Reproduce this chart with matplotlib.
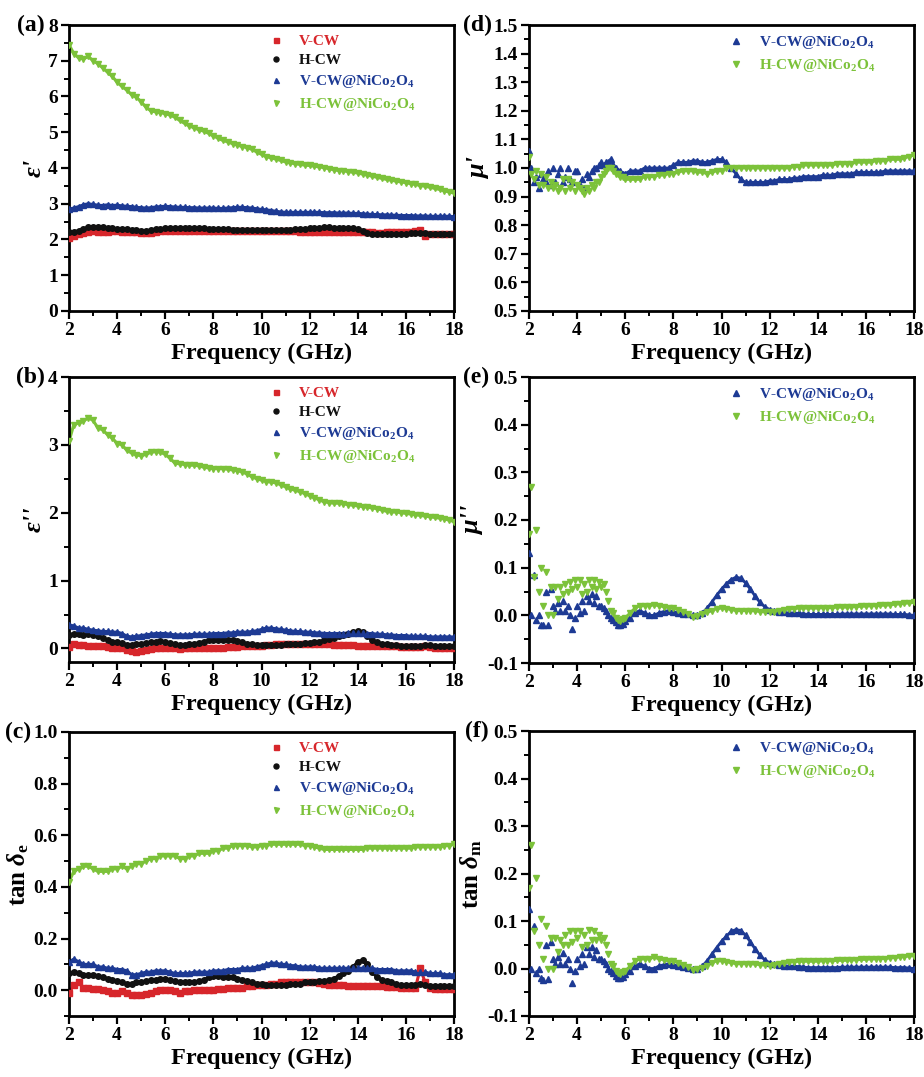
import numpy as np
import matplotlib
matplotlib.use("Agg")
import matplotlib.pyplot as plt
from matplotlib.ticker import MultipleLocator, FormatStrFormatter

plt.rcParams['font.family'] = ['Liberation Serif', 'DejaVu Serif']
plt.rcParams['font.weight'] = 'bold'
plt.rcParams['mathtext.fontset'] = 'custom'
plt.rcParams['mathtext.rm'] = 'Liberation Serif:bold'
plt.rcParams['mathtext.it'] = 'Liberation Serif:bold:italic'
plt.rcParams['mathtext.bf'] = 'Liberation Serif:bold'
plt.rcParams['axes.unicode_minus'] = False

RED = '#d7262b'
BLACK = '#111111'
BLUE = '#1d3a94'
GREEN = '#7cc23a'

# frequency grids (GHz)
freq_eps = np.round(np.arange(2.0, 18.001, 0.2), 2)
freq_mu = np.round(np.concatenate([np.arange(2.0, 5.95, 0.1), np.arange(6.0, 18.001, 0.2)]), 2)

# ---- (a) real permittivity ----
eps1_vcw = [2.05, 2.10, 2.14, 2.18, 2.22, 2.23, 2.22, 2.22, 2.22, 2.23,
            2.23, 2.22, 2.22, 2.21, 2.20, 2.18, 2.18, 2.19, 2.22, 2.24,
            2.25, 2.25, 2.25, 2.25, 2.25, 2.25, 2.25, 2.25, 2.25, 2.25,
            2.25, 2.25, 2.25, 2.25, 2.25, 2.25, 2.25, 2.25, 2.25, 2.25,
            2.25, 2.25, 2.25, 2.25, 2.25, 2.24, 2.24, 2.23, 2.22, 2.22,
            2.21, 2.21, 2.20, 2.20, 2.20, 2.20, 2.20, 2.20, 2.20, 2.20,
            2.20, 2.20, 2.20, 2.20, 2.19, 2.19, 2.20, 2.20, 2.20, 2.21,
            2.21, 2.22, 2.23, 2.26, 2.10, 2.14, 2.15, 2.15, 2.15, 2.15,
            2.15]
eps1_hcw = [2.20, 2.22, 2.24, 2.30, 2.34, 2.35, 2.35, 2.34, 2.32, 2.31,
            2.30, 2.29, 2.28, 2.27, 2.26, 2.25, 2.25, 2.26, 2.28, 2.30,
            2.31, 2.32, 2.32, 2.32, 2.32, 2.31, 2.31, 2.31, 2.31, 2.30,
            2.30, 2.29, 2.28, 2.28, 2.27, 2.27, 2.27, 2.27, 2.27, 2.27,
            2.27, 2.27, 2.27, 2.27, 2.27, 2.27, 2.27, 2.28, 2.29, 2.30,
            2.31, 2.32, 2.33, 2.34, 2.34, 2.33, 2.33, 2.33, 2.33, 2.32,
            2.30, 2.24, 2.18, 2.15, 2.14, 2.14, 2.15, 2.15, 2.15, 2.16,
            2.16, 2.17, 2.17, 2.17, 2.17, 2.16, 2.16, 2.16, 2.16, 2.16,
            2.16]
eps1_vnc = [2.85, 2.88, 2.92, 2.97, 3.00, 2.98, 2.96, 2.95, 2.97, 2.95,
            2.96, 2.94, 2.93, 2.92, 2.90, 2.89, 2.88, 2.89, 2.91, 2.92,
            2.93, 2.92, 2.91, 2.90, 2.90, 2.89, 2.89, 2.88, 2.88, 2.88,
            2.88, 2.87, 2.87, 2.88, 2.89, 2.90, 2.90, 2.89, 2.88, 2.86,
            2.84, 2.83, 2.81, 2.79, 2.77, 2.76, 2.76, 2.76, 2.76, 2.76,
            2.76, 2.76, 2.76, 2.75, 2.75, 2.75, 2.74, 2.74, 2.74, 2.73,
            2.73, 2.72, 2.71, 2.70, 2.70, 2.69, 2.69, 2.68, 2.68, 2.67,
            2.67, 2.67, 2.66, 2.66, 2.66, 2.65, 2.65, 2.65, 2.65, 2.65,
            2.64]
eps1_hnc = [7.45, 7.20, 7.08, 7.05, 7.12, 7.00, 6.92, 6.80, 6.68, 6.56,
            6.40, 6.28, 6.18, 6.05, 5.98, 5.85, 5.70, 5.60, 5.57, 5.55,
            5.52, 5.48, 5.42, 5.33, 5.25, 5.18, 5.12, 5.07, 5.03, 4.97,
            4.90, 4.83, 4.77, 4.73, 4.68, 4.64, 4.60, 4.57, 4.52, 4.45,
            4.38, 4.32, 4.28, 4.25, 4.21, 4.17, 4.14, 4.12, 4.10, 4.08,
            4.07, 4.05, 4.03, 4.01, 3.98, 3.95, 3.93, 3.92, 3.90, 3.88,
            3.86, 3.83, 3.80, 3.77, 3.74, 3.71, 3.68, 3.66, 3.63, 3.61,
            3.59, 3.56, 3.54, 3.51, 3.49, 3.46, 3.43, 3.40, 3.36, 3.33,
            3.30]

# ---- (b) imaginary permittivity ----
eps2_vcw = [0.02, 0.06, 0.05, 0.05, 0.04, 0.04, 0.04, 0.03, 0.02, 0.01,
            0.00, 0.00, -0.02, -0.04, -0.05, -0.04, -0.03, -0.01, 0.00, 0.01,
            0.01, 0.01, 0.00, -0.01, 0.00, 0.00, 0.00, 0.01, 0.01, 0.01,
            0.01, 0.01, 0.01, 0.02, 0.02, 0.02, 0.03, 0.03, 0.03, 0.04,
            0.04, 0.05, 0.05, 0.06, 0.06, 0.07, 0.07, 0.07, 0.07, 0.07,
            0.07, 0.06, 0.06, 0.06, 0.06, 0.05, 0.05, 0.05, 0.05, 0.05,
            0.04, 0.04, 0.04, 0.04, 0.04, 0.04, 0.04, 0.03, 0.03, 0.02,
            0.02, 0.02, 0.02, 0.02, 0.03, 0.02, 0.01, 0.01, 0.00, 0.00,
            0.00]
eps2_hcw = [0.20, 0.22, 0.21, 0.20, 0.21, 0.20, 0.18, 0.15, 0.12, 0.10,
            0.10, 0.08, 0.05, 0.05, 0.06, 0.07, 0.08, 0.09, 0.10, 0.11,
            0.10, 0.08, 0.06, 0.05, 0.05, 0.06, 0.07, 0.08, 0.10, 0.12,
            0.12, 0.12, 0.12, 0.12, 0.12, 0.11, 0.09, 0.07, 0.06, 0.05,
            0.05, 0.05, 0.05, 0.05, 0.05, 0.06, 0.06, 0.07, 0.07, 0.08,
            0.08, 0.09, 0.10, 0.12, 0.14, 0.16, 0.18, 0.20, 0.22, 0.24,
            0.25, 0.24, 0.18, 0.12, 0.09, 0.07, 0.06, 0.05, 0.05, 0.04,
            0.04, 0.04, 0.04, 0.04, 0.05, 0.05, 0.04, 0.04, 0.03, 0.03,
            0.03]
eps2_vnc = [0.35, 0.33, 0.30, 0.30, 0.28, 0.27, 0.26, 0.25, 0.25, 0.24,
            0.24, 0.22, 0.18, 0.17, 0.18, 0.19, 0.20, 0.21, 0.22, 0.22,
            0.22, 0.21, 0.20, 0.20, 0.20, 0.20, 0.21, 0.21, 0.21, 0.21,
            0.22, 0.22, 0.22, 0.23, 0.23, 0.24, 0.24, 0.24, 0.25, 0.26,
            0.28, 0.30, 0.30, 0.29, 0.28, 0.27, 0.26, 0.25, 0.25, 0.24,
            0.24, 0.23, 0.23, 0.22, 0.22, 0.22, 0.22, 0.22, 0.23, 0.23,
            0.23, 0.23, 0.22, 0.22, 0.21, 0.21, 0.20, 0.20, 0.19, 0.19,
            0.19, 0.18, 0.18, 0.18, 0.18, 0.17, 0.17, 0.17, 0.17, 0.17,
            0.17]
eps2_hnc = [3.05, 3.30, 3.32, 3.35, 3.40, 3.36, 3.25, 3.22, 3.15, 3.10,
            3.02, 3.00, 2.92, 2.88, 2.85, 2.84, 2.86, 2.89, 2.90, 2.89,
            2.86, 2.80, 2.73, 2.72, 2.71, 2.70, 2.70, 2.69, 2.67, 2.66,
            2.65, 2.65, 2.65, 2.64, 2.63, 2.62, 2.60, 2.57, 2.53, 2.50,
            2.48, 2.46, 2.45, 2.44, 2.41, 2.38, 2.35, 2.33, 2.31, 2.28,
            2.25, 2.22, 2.19, 2.16, 2.15, 2.14, 2.14, 2.13, 2.12, 2.11,
            2.10, 2.09, 2.08, 2.07, 2.06, 2.04, 2.02, 2.01, 2.01, 2.00,
            1.99, 1.98, 1.97, 1.96, 1.95, 1.94, 1.93, 1.92, 1.91, 1.89,
            1.87]

# ---- (c) dielectric loss tangent ----
tane_vcw = [-0.01, 0.02, 0.03, 0.01, 0.01, 0.005, 0.005, 0.0, -0.005, -0.01,
            -0.01, -0.005, -0.01, -0.02, -0.02, -0.02, -0.015, -0.01, -0.005, 0.0,
            0.0, 0.0, -0.005, -0.01, -0.005, -0.005, 0.0, 0.0, 0.0, 0.0,
            0.0, 0.005, 0.005, 0.01, 0.01, 0.01, 0.01, 0.015, 0.015, 0.02,
            0.02, 0.02, 0.025, 0.025, 0.03, 0.03, 0.03, 0.03, 0.03, 0.03,
            0.03, 0.03, 0.028, 0.025, 0.022, 0.02, 0.02, 0.02, 0.018, 0.016,
            0.015, 0.015, 0.015, 0.015, 0.015, 0.015, 0.012, 0.012, 0.012, 0.01,
            0.01, 0.01, 0.01, 0.085, 0.03, 0.01, 0.005, 0.005, 0.005, 0.005,
            0.005]
tane_hcw = [0.065, 0.07, 0.065, 0.06, 0.06, 0.06, 0.055, 0.05, 0.045, 0.04,
            0.035, 0.03, 0.025, 0.025, 0.03, 0.03, 0.035, 0.04, 0.04, 0.045,
            0.045, 0.04, 0.035, 0.03, 0.03, 0.03, 0.03, 0.035, 0.04, 0.05,
            0.055, 0.055, 0.05, 0.05, 0.05, 0.045, 0.04, 0.035, 0.03, 0.025,
            0.025, 0.02, 0.02, 0.02, 0.02, 0.02, 0.025, 0.025, 0.025, 0.03,
            0.03, 0.03, 0.035, 0.035, 0.04, 0.045, 0.055, 0.065, 0.075, 0.09,
            0.11, 0.115, 0.10, 0.07, 0.05, 0.04, 0.035, 0.03, 0.025, 0.02,
            0.02, 0.02, 0.02, 0.025, 0.02, 0.015, 0.015, 0.015, 0.015, 0.015,
            0.015]
tane_vnc = [0.11, 0.12, 0.11, 0.10, 0.10, 0.10, 0.09, 0.09, 0.085, 0.085,
            0.08, 0.08, 0.075, 0.06, 0.06, 0.065, 0.07, 0.07, 0.075, 0.075,
            0.075, 0.07, 0.065, 0.065, 0.065, 0.065, 0.07, 0.07, 0.07, 0.07,
            0.075, 0.075, 0.075, 0.08, 0.08, 0.08, 0.085, 0.085, 0.085, 0.09,
            0.095, 0.10, 0.105, 0.105, 0.10, 0.10, 0.095, 0.095, 0.09, 0.09,
            0.09, 0.09, 0.085, 0.085, 0.085, 0.085, 0.085, 0.085, 0.085, 0.085,
            0.085, 0.085, 0.085, 0.085, 0.08, 0.08, 0.08, 0.08, 0.075, 0.075,
            0.075, 0.075, 0.07, 0.07, 0.07, 0.065, 0.065, 0.065, 0.06, 0.06,
            0.06]
tane_hnc = [0.42, 0.46, 0.47, 0.48, 0.48, 0.47, 0.46, 0.46, 0.46, 0.47,
            0.47, 0.48, 0.47, 0.48, 0.49, 0.49, 0.50, 0.51, 0.51, 0.52,
            0.52, 0.52, 0.52, 0.51, 0.51, 0.52, 0.52, 0.53, 0.53, 0.53,
            0.54, 0.54, 0.55, 0.55, 0.56, 0.56, 0.56, 0.56, 0.555, 0.555,
            0.56, 0.56, 0.565, 0.565, 0.565, 0.565, 0.565, 0.565, 0.565, 0.56,
            0.56, 0.555, 0.55, 0.545, 0.545, 0.545, 0.545, 0.545, 0.545, 0.545,
            0.545, 0.545, 0.55, 0.55, 0.55, 0.55, 0.55, 0.55, 0.55, 0.55,
            0.55, 0.55, 0.555, 0.555, 0.555, 0.555, 0.555, 0.555, 0.56, 0.56,
            0.565]

# ---- (d) real permeability ----
mu1_vnc = [1.06, 1.00, 0.95, 0.97, 0.93, 0.98, 0.96, 0.95, 0.99, 0.94,
           1.00, 0.95, 0.98, 1.00, 0.95, 0.97, 1.00, 0.96, 0.95, 0.99,
           0.99, 0.94, 0.96, 0.93, 0.98, 0.97, 0.99, 1.00, 1.00, 1.01,
           1.02, 1.01, 1.02, 1.02, 1.03, 1.01, 1.00, 0.99, 0.99, 0.98,
           0.98, 0.99, 0.99, 0.99, 1.00, 1.00, 1.00, 1.00, 1.00, 1.00,
           1.01, 1.02, 1.02, 1.02, 1.025, 1.025, 1.02, 1.02, 1.025, 1.03,
           1.03, 1.02, 1.00, 0.98, 0.96, 0.95, 0.95, 0.95, 0.95, 0.95,
           0.955, 0.955, 0.96, 0.96, 0.96, 0.965, 0.965, 0.97, 0.97, 0.97,
           0.97, 0.975, 0.975, 0.975, 0.98, 0.98, 0.98, 0.98, 0.985, 0.985,
           0.985, 0.985, 0.985, 0.985, 0.99, 0.99, 0.99, 0.99, 0.99, 0.99,
           0.99]
mu1_hnc = [1.04, 0.98, 0.96, 0.99, 0.94, 0.98, 0.94, 0.97, 0.93, 0.95,
           0.93, 0.94, 0.92, 0.93, 0.96, 0.92, 0.96, 0.93, 0.95, 0.92,
           0.94, 0.93, 0.92, 0.91, 0.93, 0.92, 0.94, 0.93, 0.95, 0.95,
           0.97, 0.98, 0.99, 1.00, 1.00, 0.99, 0.98, 0.98, 0.97, 0.97,
           0.96, 0.96, 0.96, 0.96, 0.97, 0.97, 0.97, 0.975, 0.975, 0.98,
           0.98, 0.985, 0.99, 0.99, 0.99, 0.985, 0.985, 0.98, 0.985, 0.99,
           0.99, 1.00, 1.00, 1.00, 1.00, 1.00, 1.00, 1.00, 1.00, 1.00,
           1.00, 1.00, 1.00, 1.00, 1.00, 1.005, 1.005, 1.01, 1.01, 1.01,
           1.01, 1.01, 1.01, 1.01, 1.015, 1.015, 1.015, 1.015, 1.02, 1.02,
           1.02, 1.02, 1.025, 1.025, 1.025, 1.03, 1.03, 1.03, 1.035, 1.04,
           1.045]

# ---- (e) imaginary permeability ----
mu2_vnc = [0.13, 0.00, 0.085, -0.01, 0.00, -0.02, -0.02, 0.05, -0.02, 0.055,
           0.02, 0.01, 0.025, 0.01, 0.03, 0.01, 0.02, 0.00, -0.028, -0.005,
           0.02, 0.005, 0.03, 0.01, 0.04, 0.03, 0.045, 0.025, 0.04, 0.02,
           0.02, 0.015, 0.01, 0.0, -0.005, -0.01, -0.015, -0.02, -0.02, -0.018,
           -0.012, -0.005, 0.005, 0.01, 0.005, 0.0, 0.0, 0.005, 0.008, 0.01,
           0.008, 0.005, 0.003, 0.002, 0.0, 0.0, 0.005, 0.015, 0.028, 0.042,
           0.055, 0.066, 0.075, 0.08, 0.078, 0.068, 0.055, 0.04, 0.027, 0.018,
           0.012, 0.01, 0.008, 0.006, 0.005, 0.005, 0.004, 0.003, 0.002, 0.002,
           0.002, 0.002, 0.002, 0.002, 0.002, 0.003, 0.003, 0.003, 0.003, 0.003,
           0.003, 0.003, 0.003, 0.003, 0.003, 0.003, 0.002, 0.002, 0.002, 0.001,
           0.0]
mu2_hnc = [0.17, 0.27, 0.08, 0.18, 0.05, 0.10, 0.02, 0.09, 0.0, 0.06,
           0.0, 0.06, 0.035, 0.06, 0.045, 0.065, 0.05, 0.07, 0.055, 0.075,
           0.06, 0.075, 0.045, 0.065, 0.05, 0.075, 0.06, 0.075, 0.055, 0.07,
           0.06, 0.065, 0.05, 0.03, 0.01, 0.005, -0.005, -0.01, -0.012, -0.008,
           -0.005, 0.005, 0.015, 0.02, 0.02, 0.02, 0.022, 0.02, 0.018, 0.016,
           0.015, 0.012, 0.008, 0.003, -0.003, -0.002, 0.002, 0.006, 0.01, 0.014,
           0.015, 0.014, 0.012, 0.01, 0.01, 0.01, 0.01, 0.009, 0.008, 0.007,
           0.006, 0.008, 0.01, 0.012, 0.013, 0.014, 0.015, 0.015, 0.015, 0.015,
           0.015, 0.016, 0.016, 0.016, 0.017, 0.017, 0.017, 0.018, 0.018, 0.019,
           0.019, 0.02, 0.02, 0.021, 0.021, 0.022, 0.023, 0.024, 0.025, 0.026,
           0.027]

# ---- (f) magnetic loss tangent ----
tanm_vnc = [0.125, 0.00, 0.09, -0.01, 0.00, -0.02, -0.025, 0.05, -0.022, 0.055,
            0.02, 0.01, 0.025, 0.01, 0.032, 0.01, 0.02, 0.00, -0.03, -0.005,
            0.02, 0.005, 0.03, 0.01, 0.045, 0.03, 0.045, 0.025, 0.04, 0.02,
            0.02, 0.015, 0.01, 0.0, -0.005, -0.01, -0.015, -0.02, -0.02, -0.018,
            -0.012, -0.005, 0.005, 0.01, 0.005, 0.0, 0.0, 0.005, 0.008, 0.01,
            0.008, 0.005, 0.003, 0.002, 0.0, 0.0, 0.005, 0.016, 0.03, 0.044,
            0.057, 0.068, 0.078, 0.082, 0.08, 0.07, 0.056, 0.041, 0.028, 0.018,
            0.012, 0.01, 0.008, 0.006, 0.005, 0.005, 0.004, 0.003, 0.002, 0.002,
            0.002, 0.002, 0.002, 0.002, 0.002, 0.003, 0.003, 0.003, 0.003, 0.003,
            0.003, 0.003, 0.003, 0.003, 0.003, 0.003, 0.002, 0.002, 0.002, 0.001,
            0.0]
tanm_hnc = [0.17, 0.26, 0.08, 0.19, 0.05, 0.105, 0.02, 0.09, 0.0, 0.065,
            0.0, 0.065, 0.035, 0.06, 0.05, 0.07, 0.05, 0.08, 0.055, 0.08,
            0.065, 0.08, 0.045, 0.07, 0.05, 0.082, 0.06, 0.08, 0.06, 0.07,
            0.06, 0.065, 0.05, 0.03, 0.01, 0.005, -0.005, -0.01, -0.012, -0.008,
            -0.005, 0.005, 0.015, 0.02, 0.02, 0.02, 0.024, 0.02, 0.018, 0.016,
            0.015, 0.012, 0.008, 0.003, -0.003, -0.002, 0.002, 0.006, 0.012, 0.016,
            0.016, 0.014, 0.012, 0.01, 0.01, 0.01, 0.01, 0.009, 0.008, 0.007,
            0.006, 0.008, 0.01, 0.012, 0.013, 0.014, 0.015, 0.015, 0.015, 0.015,
            0.015, 0.016, 0.016, 0.016, 0.017, 0.017, 0.017, 0.018, 0.018, 0.019,
            0.019, 0.02, 0.02, 0.021, 0.021, 0.022, 0.023, 0.024, 0.025, 0.026,
            0.027]

labels = ['V-CW', 'H-CW', 'V-CW@NiCo$_2$O$_4$', 'H-CW@NiCo$_2$O$_4$']
colors = [RED, BLACK, BLUE, GREEN]
markers = ['s', 'o', '^', 'v']


def style_axes(ax, ylim, ymajor, yminor, yfmt, ylabel, tag, tagx, italic=True):
    ax.set_xlim(2, 18)
    ax.set_ylim(*ylim)
    ax.xaxis.set_major_locator(MultipleLocator(2))
    ax.xaxis.set_minor_locator(MultipleLocator(1))
    ax.yaxis.set_major_locator(MultipleLocator(ymajor))
    ax.yaxis.set_minor_locator(MultipleLocator(yminor))
    ax.yaxis.set_major_formatter(FormatStrFormatter(yfmt))
    ax.tick_params(which='major', direction='out', length=6, width=1.6, labelsize=14, pad=2)
    ax.tick_params(which='minor', direction='out', length=3.5, width=1.4)
    for lb in ax.get_xticklabels() + ax.get_yticklabels():
        lb.set_fontweight('bold')
    for sp in ax.spines.values():
        sp.set_linewidth(2.0)
    ax.set_xlabel('Frequency (GHz)', fontsize=17.5, fontweight='bold', labelpad=3)
    ax.set_ylabel(ylabel, fontsize=19 if italic else 18, fontweight='bold',
                  fontstyle='italic' if italic else 'normal', labelpad=2)
    ax.text(tagx, 1.0, tag, transform=ax.transAxes, fontsize=17, fontweight='bold',
            ha='left', va='center')


def add_legend(ax):
    leg = ax.legend(loc='upper left', bbox_to_anchor=(0.49, 1.0), frameon=False,
                    prop={'size': 11, 'weight': 'bold'}, labelcolor='markerfacecolor',
                    handlelength=1.2, handletextpad=0.9, labelspacing=0.38,
                    markerscale=0.9, borderaxespad=0.2)
    return leg


W, H = 924, 1077
fig = plt.figure(figsize=(W / 100, H / 100), dpi=100)


def make_axes(left, top, bottom):
    return fig.add_axes([left / W, 1 - bottom / H, 385 / W, (bottom - top) / H])


ax_a = make_axes(69, 25, 311)
ax_b = make_axes(69, 377, 662)
ax_c = make_axes(69, 732, 1016)
ax_d = make_axes(529, 25, 311)
ax_e = make_axes(529, 377, 663)
ax_f = make_axes(529, 731, 1016)

eps_sets = [
    (ax_a, [eps1_vcw, eps1_hcw, eps1_vnc, eps1_hnc]),
    (ax_b, [eps2_vcw, eps2_hcw, eps2_vnc, eps2_hnc]),
    (ax_c, [tane_vcw, tane_hcw, tane_vnc, tane_hnc]),
]
for ax, series in eps_sets:
    for y, c, m, lab in zip(series, colors, markers, labels):
        ax.plot(freq_eps, y, color=c, lw=2.2, zorder=2)
        ax.plot(freq_eps, y, ls='none', marker=m, ms=4, color=c, mec=c, label=lab, zorder=3)
    add_legend(ax)

# above ~5.4 GHz the permeability points are dense enough to read as a band
dense = freq_mu >= 5.4
mu_sets = [
    (ax_d, [mu1_vnc, mu1_hnc]),
    (ax_e, [mu2_vnc, mu2_hnc]),
    (ax_f, [tanm_vnc, tanm_hnc]),
]
for ax, series in mu_sets:
    for y, c, m, lab in zip(series, colors[2:], markers[2:], labels[2:]):
        y = np.asarray(y)
        ax.plot(freq_mu[dense], y[dense], color=c, lw=2.0, zorder=2)
        ax.plot(freq_mu, y, ls='none', marker=m, ms=4.2, color=c, mec=c, label=lab, zorder=3)
    add_legend(ax)

style_axes(ax_a, (0, 8), 1, 0.5, '%d', "ε'", '(a)', -0.135)
style_axes(ax_b, (-0.2, 4), 1, 0.5, '%d', "ε''", '(b)', -0.138)
style_axes(ax_c, (-0.1, 1.0), 0.2, 0.1, '%.1f', r"tan $\delta_\mathrm{e}$", '(c)', -0.165, italic=False)
style_axes(ax_d, (0.5, 1.5), 0.1, 0.05, '%.1f', "μ'", '(d)', -0.172)
style_axes(ax_e, (-0.1, 0.5), 0.1, 0.05, '%.1f', "μ''", '(e)', -0.172)
style_axes(ax_f, (-0.1, 0.5), 0.1, 0.05, '%.1f', r"tan $\delta_\mathrm{m}$", '(f)', -0.165, italic=False)

fig.savefig('out.png', dpi=100)
